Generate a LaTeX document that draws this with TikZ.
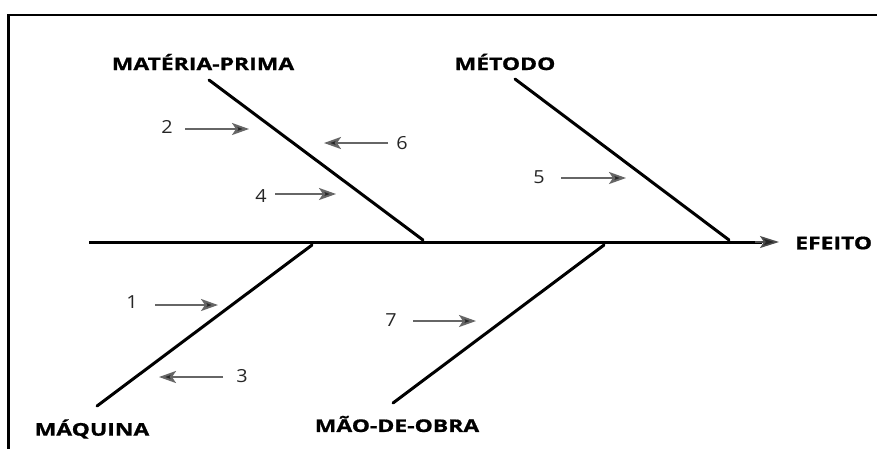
\documentclass[tikz,border=0pt]{standalone}
\usepackage{fontspec}
\setmainfont{Open Sans}
\newfontfamily\catfont{Open Sans Bold}[FakeBold=0.8]
\usetikzlibrary{arrows.meta}
\newcommand{\wide}[1]{\scalebox{1.31}[1]{#1}}
\newcommand{\widenum}[1]{\scalebox{1.1}[1]{#1}}
\begin{document}
\begin{tikzpicture}[x=1pt,y=-1pt,
  bone/.style={line width=3pt,line cap=round},
  cat/.style={font=\fontsize{17.5}{17.5}\catfont,inner sep=0pt},
  num/.style={font=\fontsize{18}{18}\selectfont,inner sep=0pt,text=black!85},
  cause/.style={draw=black!60,line width=2pt,-{Stealth[length=17pt,width=12pt,inset=4pt,fill=black!85]}}]
\useasboundingbox (0,0) rectangle (877,448);
\fill[white] (0,0) rectangle (877,448);
\draw[line width=2.2pt] (8.5,460) -- (8.5,15) -- (890,15);
% spine
\coordinate (s0) at (89,242);
\coordinate (s1) at (779,242);
\draw[line width=3pt] (s0) -- (762,242);
\draw[line width=1.5pt,draw=black!70,-{Stealth[length=19pt,width=12pt,inset=4pt,fill=black!85]}] (755,242) -- (s1);
\node[cat,anchor=west] (efeito) at (795,243) {\wide{EFEITO}};
% branches
\coordinate (mp1) at (209,80);  \coordinate (mp2) at (423,240);
\coordinate (me1) at (515,79);  \coordinate (me2) at (729,240);
\coordinate (mq1) at (97,406);  \coordinate (mq2) at (312,245);
\coordinate (mo1) at (393,403); \coordinate (mo2) at (604,245);
\draw[bone] (mp1) -- (mp2);
\draw[bone] (me1) -- (me2);
\draw[bone] (mq1) -- (mq2);
\draw[bone] (mo1) -- (mo2);
\node[cat] (lmp) at (203,62) {\wide{MATÉRIA-PRIMA}};
\node[cat] (lme) at (505,62) {\wide{MÉTODO}};
\node[cat] (lmq) at (92,429) {\wide{MÁQUINA}};
\node[cat] (lmo) at (397,424) {\wide{MÃO-DE-OBRA}};
% causes
\node[num] (n2) at (167,127) {\widenum{2}};
\coordinate (a2) at (249,129);
\draw[cause] (185,129) -- (a2);
\node[num] (n6) at (402,143) {\widenum{6}};
\coordinate (a6) at (324,143);
\draw[cause] (388,143) -- (a6);
\node[num] (n4) at (261,196) {\widenum{4}};
\coordinate (a4) at (336,194);
\draw[cause] (275,194) -- (a4);
\node[num] (n5) at (539,177) {\widenum{5}};
\coordinate (a5) at (626,178);
\draw[cause] (561,178) -- (a5);
\node[num] (n1) at (132,302) {\widenum{1}};
\coordinate (a1) at (218,305);
\draw[cause] (155,305) -- (a1);
\node[num] (n3) at (242,376) {\widenum{3}};
\coordinate (a3) at (159,377);
\draw[cause] (223,377) -- (a3);
\node[num] (n7) at (391,320) {\widenum{7}};
\coordinate (a7) at (476,321);
\draw[cause] (413,321) -- (a7);
\end{tikzpicture}
\end{document}
